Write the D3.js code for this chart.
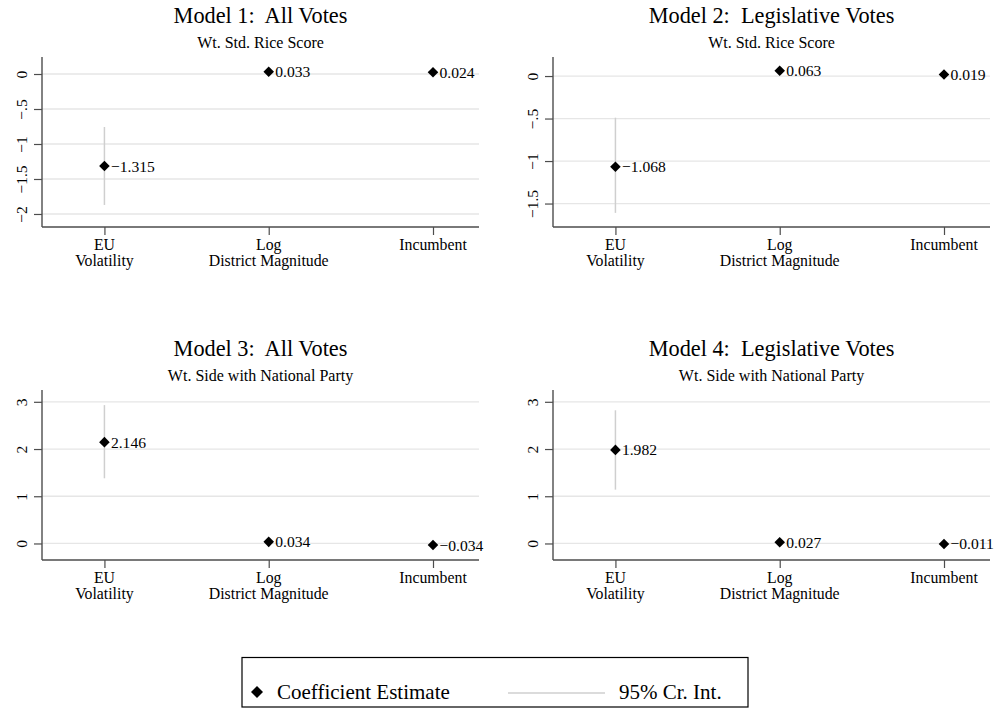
<!DOCTYPE html>
<html>
<head>
<meta charset="utf-8">
<script src="https://cdn.jsdelivr.net/npm/d3@7"></script>
<style>
  html, body { margin: 0; padding: 0; background: #fff; }
  svg { display: block; font-family: "Liberation Serif", "Times New Roman", Times, serif; }
  text { font-family: "Liberation Serif", "Times New Roman", Times, serif; fill: #000; white-space: pre; }
</style>
</head>
<body>
<svg id="chart" width="995" height="709" font-family="Liberation Serif, Times New Roman, serif"></svg>
<script>
// ---------- data ----------
const categories = [["EU", "Volatility"], ["Log", "District Magnitude"], ["Incumbent"]];
const titles = ["Model 1:  All Votes", "Model 2:  Legislative Votes", "Model 3:  All Votes", "Model 4:  Legislative Votes"];
const subtitles = ["Wt. Std. Rice Score", "Wt. Std. Rice Score", "Wt. Side with National Party", "Wt. Side with National Party"];
const estimates = [
  [-1.315, 0.033, 0.024],
  [-1.068, 0.063, 0.019],
  [2.146, 0.034, -0.034],
  [1.982, 0.027, -0.011]
];
const ciLower = [
  [-1.871, null, null],
  [-1.61, null, null],
  [1.38, null, null],
  [1.14, null, null]
];
const ciUpper = [
  [-0.757, null, null],
  [-0.49, null, null],
  [2.93, null, null],
  [2.82, null, null]
];
const yTicks = [
  [0, -0.5, -1, -1.5, -2],
  [0, -0.5, -1, -1.5],
  [0, 1, 2, 3],
  [0, 1, 2, 3]
];
const yDomains = [[-2.186, 0.243], [-1.776, 0.224], [-0.35, 3.25], [-0.35, 3.25]];
const legendLabels = ["Coefficient Estimate", "95% Cr. Int."];

// ---------- layout ----------
const FONT = "'Liberation Serif', 'Times New Roman', Times, serif";
const svg = d3.select("#chart");
const plotW = 437;
const colX = [42, 553];
const rowOff = [0, 333];
const yTop = 57, yBot = 227;

const gridColor = "#e6e6e6";
const axisColor = "#4d4d4d";
const ciColor = "#cfcfcf";

const fmtTick = v => v === 0 ? "0" : (v < 0 ? "\u2212" : "") + String(Math.abs(v)).replace(/^0\./, ".");
const fmtVal = d3.format(".3f");
const diamond = d3.symbol().type(d3.symbolSquare).size(56);

estimates.forEach((est, i) => {
  const col = i % 2, row = Math.floor(i / 2);
  const x0 = colX[col], off = rowOff[row];
  const g = svg.append("g").attr("transform", `translate(0,${off})`);

  const x = d3.scaleLinear().domain([0.62, 3.28]).range([x0, x0 + plotW]);
  const y = d3.scaleLinear().domain(yDomains[i]).range([yBot, yTop]);

  // titles
  g.append("text").attr("x", x0 + plotW / 2).attr("y", 22.7)
    .attr("text-anchor", "middle").style("font-family", FONT).style("font-size", "22.3px").text(titles[i]);
  g.append("text").attr("x", x0 + plotW / 2).attr("y", 48.3)
    .attr("text-anchor", "middle").style("font-family", FONT).style("font-size", "16px").text(subtitles[i]);

  // grid lines
  g.append("g").selectAll("line").data(yTicks[i]).join("line")
    .attr("x1", x0).attr("x2", x0 + plotW)
    .attr("y1", d => y(d)).attr("y2", d => y(d))
    .attr("stroke", gridColor).attr("stroke-width", 1.3);

  // y axis
  const ya = g.append("g").attr("transform", `translate(${x0},0)`)
    .call(d3.axisLeft(y).tickValues(yTicks[i]).tickSize(8).tickSizeOuter(0).tickFormat(fmtTick));
  ya.select(".domain").attr("d", `M0,${yTop}V${yBot}`).attr("stroke", axisColor).attr("stroke-width", 1.4);
  ya.selectAll(".tick line").attr("stroke", axisColor).attr("stroke-width", 1.2);
  ya.selectAll(".tick text")
    .attr("x", 0).attr("y", 0).attr("dy", null)
    .attr("transform", "translate(-15,0) rotate(-90)")
    .attr("text-anchor", "middle")
    .style("font-size", "15.5px").style("font-family", FONT)
    .attr("fill", "#000");

  // x axis
  const xa = g.append("g").attr("transform", `translate(0,${yBot})`)
    .call(d3.axisBottom(x).tickValues([1, 2, 3]).tickSize(8).tickSizeOuter(0).tickFormat(""));
  xa.select(".domain").attr("d", `M${x0},0H${x0 + plotW}`).attr("stroke", axisColor).attr("stroke-width", 1.4);
  xa.selectAll(".tick line").attr("stroke", axisColor).attr("stroke-width", 1.2);

  // category labels
  categories.forEach((lines, c) => {
    const t = g.append("text").attr("text-anchor", "middle").style("font-family", FONT).style("font-size", "15.8px");
    lines.forEach((ln, k) => {
      t.append("tspan").attr("x", x(c + 1)).attr("y", yBot + 23 + k * 15.8).text(ln);
    });
  });

  // CIs
  est.forEach((v, c) => {
    if (ciLower[i][c] !== null) {
      g.append("line")
        .attr("x1", x(c + 1)).attr("x2", x(c + 1))
        .attr("y1", y(ciLower[i][c])).attr("y2", y(ciUpper[i][c]))
        .attr("stroke", ciColor).attr("stroke-width", 1.5);
    }
  });

  // points + labels
  est.forEach((v, c) => {
    g.append("path").attr("d", diamond)
      .attr("transform", `translate(${x(c + 1)},${y(v)}) rotate(45)`)
      .attr("fill", "#000");
    g.append("text").attr("x", x(c + 1) + 6.5).attr("y", y(v) + 5.5)
      .style("font-family", FONT).style("font-size", "15.6px").text(fmtVal(v));
  });
});

// ---------- legend ----------
const lg = svg.append("g");
lg.append("rect").attr("x", 242).attr("y", 657.5).attr("width", 506).attr("height", 49.5)
  .attr("fill", "#fff").attr("stroke", "#000").attr("stroke-width", 1.2);
lg.append("path").attr("d", d3.symbol().type(d3.symbolSquare).size(72))
  .attr("transform", "translate(257,692) rotate(45)").attr("fill", "#000");
lg.append("text").attr("x", 277).attr("y", 699).style("font-family", FONT).style("font-size", "21px").text(legendLabels[0]);
lg.append("line").attr("x1", 508).attr("x2", 605).attr("y1", 693).attr("y2", 693)
  .attr("stroke", ciColor).attr("stroke-width", 1.5);
lg.append("text").attr("x", 619).attr("y", 699).style("font-family", FONT).style("font-size", "21px").text(legendLabels[1]);
</script>
</body>
</html>
